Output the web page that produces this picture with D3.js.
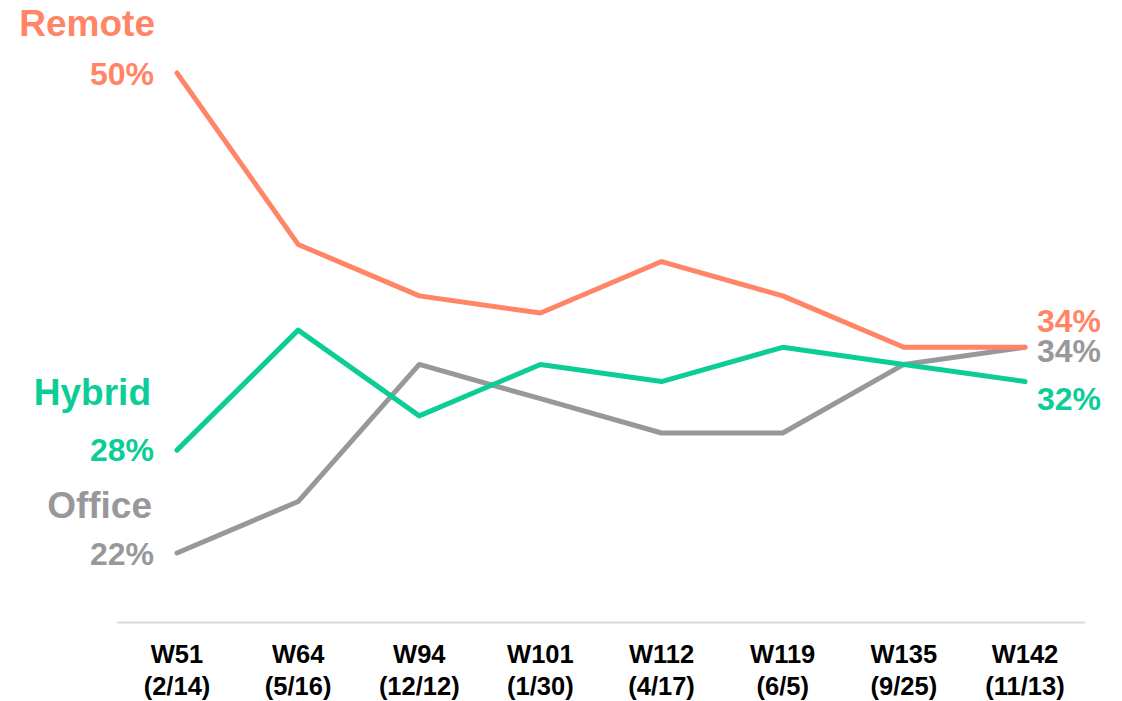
<!DOCTYPE html>
<html>
<head>
<meta charset="utf-8">
<script src="https://cdn.jsdelivr.net/npm/d3@7"></script>
<style>
  html, body { margin: 0; padding: 0; background: #fff; }
  svg { display: block; font-family: "Liberation Sans", Arial, sans-serif; }
</style>
</head>
<body>
<svg id="chart" width="1122" height="701"></svg>
<script>
const weeks = ["W51", "W64", "W94", "W101", "W112", "W119", "W135", "W142"];
const dates = ["(2/14)", "(5/16)", "(12/12)", "(1/30)", "(4/17)", "(6/5)", "(9/25)", "(11/13)"];
const remote = [50, 40, 37, 36, 39, 37, 34, 34];
const hybrid = [28, 35, 30, 33, 32, 34, 33, 32];
const office = [22, 25, 33, 31, 29, 29, 33, 34];

const series = [
  { name: "Remote", values: remote, color: "#FF8566", nameX: 155, nameDy: -37, valDy: 12, endDy: -15 },
  { name: "Hybrid", values: hybrid, color: "#0BCD95", nameX: 151, nameDy: -45, valDy: 11, endDy: 28 },
  { name: "Office", values: office, color: "#98989C", nameX: 152, nameDy: -35, valDy: 12, endDy: 15 }
];

const svg = d3.select("#chart");
const x = d3.scalePoint().domain(weeks).range([177, 1025]);
const y = d3.scaleLinear().domain([22, 50]).range([553, 73]);

// baseline axis line
svg.append("line")
  .attr("x1", 117).attr("x2", 1085)
  .attr("y1", 622.5).attr("y2", 622.5)
  .attr("stroke", "#d9d9d9").attr("stroke-width", 2);

// x tick labels
const ticks = svg.append("g").selectAll("text").data(weeks).join("text")
  .attr("x", d => x(d))
  .attr("text-anchor", "middle")
  .attr("font-size", 25.5)
  .attr("font-weight", "bold")
  .attr("fill", "#000");
ticks.append("tspan").attr("x", d => x(d)).attr("y", 663).text(d => d);
ticks.append("tspan").attr("x", d => x(d)).attr("y", 695).text((d, i) => dates[i]);

const line = d3.line().x((d, i) => x(weeks[i])).y(d => y(d));

// draw order: office, hybrid, remote (remote on top)
[series[2], series[1], series[0]].forEach(s => {
  svg.append("path")
    .datum(s.values)
    .attr("d", line)
    .attr("fill", "none")
    .attr("stroke", s.color)
    .attr("stroke-width", 5)
    .attr("stroke-linecap", "round")
    .attr("stroke-linejoin", "round");
});

series.forEach(s => {
  const v0 = s.values[0];
  const vN = s.values[s.values.length - 1];
  svg.append("text")
    .attr("x", s.nameX).attr("y", y(v0) + s.nameDy)
    .attr("text-anchor", "end")
    .attr("font-size", 37).attr("font-weight", "bold")
    .attr("fill", s.color)
    .text(s.name);
  svg.append("text")
    .attr("x", 154).attr("y", y(v0) + s.valDy)
    .attr("text-anchor", "end")
    .attr("font-size", 32).attr("font-weight", "bold")
    .attr("fill", s.color)
    .text(v0 + "%");
  svg.append("text")
    .attr("x", 1037).attr("y", y(vN) + s.endDy)
    .attr("text-anchor", "start")
    .attr("font-size", 32).attr("font-weight", "bold")
    .attr("fill", s.color)
    .text(vN + "%");
});
</script>
</body>
</html>
